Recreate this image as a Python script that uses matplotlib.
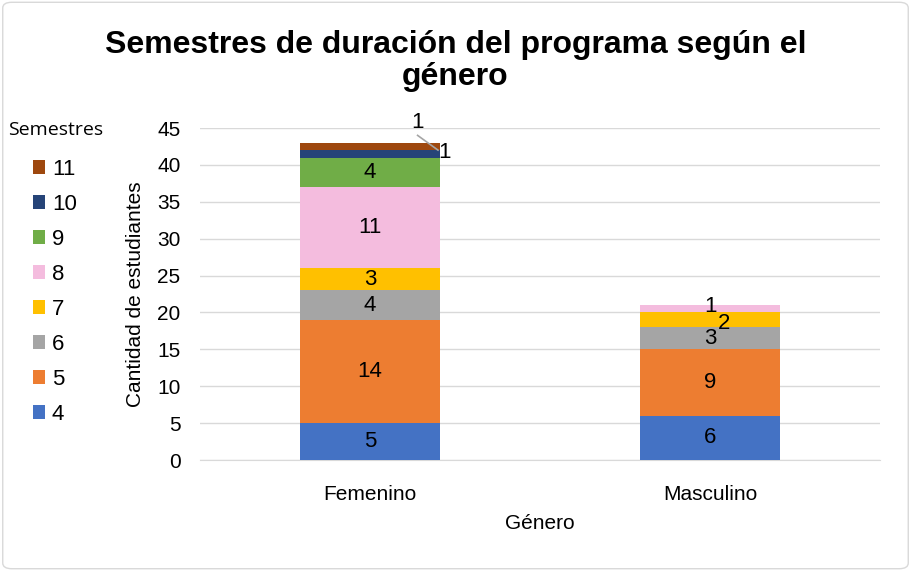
import numpy as np
import matplotlib.pyplot as plt
from matplotlib.patches import FancyBboxPatch

# data
generos = ['Femenino', 'Masculino']
semestres = ['4', '5', '6', '7', '8', '9', '10', '11']
femenino = [5, 14, 4, 3, 11, 4, 1, 1]
masculino = [6, 9, 3, 2, 1, 0, 0, 0]
colores = ['#4472C4', '#ED7D31', '#A5A5A5', '#FFC000', '#F4BCDE',
           '#70AD47', '#264478', '#9E480E']

plt.rcParams['font.family'] = ['Liberation Sans', 'DejaVu Sans']

fig = plt.figure(figsize=(9.11, 5.71), dpi=100)
ax = fig.add_axes([200 / 911, 1 - 460 / 571, 680 / 911, 332 / 571])

x = np.arange(len(generos))
width = 0.41
valores = np.array([femenino, masculino])
bottom = np.zeros(len(generos))
bars = []
for i, s in enumerate(semestres):
    b = ax.bar(x, valores[:, i], width, bottom=bottom, color=colores[i],
               label=s, zorder=3)
    bars.append(b)
    bottom += valores[:, i]

# data labels
fs = 16
for i, s in enumerate(semestres):
    for j in range(len(generos)):
        v = valores[j, i]
        if v == 0:
            continue
        base = valores[j, :i].sum()
        cy = base + v / 2
        cx = x[j]
        if j == 0 and s == '10':
            ax.text(cx + 0.22, cy + 0.2, '1', ha='center', va='center', fontsize=fs)
            continue
        if j == 0 and s == '11':
            ax.plot([cx + 0.14, cx + 0.2], [44.0, 42.0], color='#A5A5A5', lw=1.2, zorder=4)
            ax.text(cx + 0.14, 45.8, '1', ha='center', va='center', fontsize=fs)
            continue
        if j == 1 and s == '8':
            ax.text(cx, cy + 0.3, '1', ha='center', va='center', fontsize=fs)
            continue
        if j == 1 and s == '7':
            ax.text(cx + 0.04, cy - 0.5, '2', ha='center', va='center', fontsize=fs)
            continue
        ax.text(cx, cy, str(v), ha='center', va='center', fontsize=fs)

ax.set_ylim(0, 45)
ax.set_xlim(-0.5, 1.5)
ax.set_yticks(np.arange(0, 46, 5))
ax.set_xticks(x)
ax.set_xticklabels(generos)
ax.tick_params(axis='both', length=0, labelsize=15, colors='#000000')
ax.tick_params(axis='x', pad=18, labelsize=15)
ax.tick_params(axis='y', pad=14)
ax.grid(axis='y', color='#D9D9D9', lw=1, zorder=0)
for sp in ['top', 'right', 'left']:
    ax.spines[sp].set_visible(False)
ax.spines['bottom'].set_color('#D9D9D9')

ax.set_ylabel('Cantidad de estudiantes', fontsize=15, labelpad=9)
ax.set_xlabel('Género', fontsize=15, labelpad=7)

fig.text(0.5, 1 - 45 / 571, 'Semestres de duración del programa según el',
         ha='center', va='center', fontsize=23, fontweight='bold')
fig.text(0.5, 1 - 77 / 571, 'género', ha='center', va='center',
         fontsize=23, fontweight='bold')

# legend
handles = [bars[i] for i in range(len(semestres))][::-1]
labels = semestres[::-1]
fig.text(8 / 911, 1 - 130 / 571, 'Semestres', ha='left', va='center',
         fontsize=14, family=['Open Sans', 'DejaVu Sans'])
leg = fig.legend(handles, labels, loc='upper left',
                 bbox_to_anchor=(33 / 911, 1 - 159 / 571), frameon=False,
                 fontsize=16, handlelength=0.55, handleheight=0.55,
                 handletextpad=0.3, labelspacing=0.63, borderpad=0,
                 borderaxespad=0)

fig.patches.append(FancyBboxPatch((0.003, 0.004), 0.994, 0.992,
                                  boxstyle='round,pad=0,rounding_size=0.01',
                                  transform=fig.transFigure, fill=False,
                                  edgecolor='#D9D9D9', lw=1))

fig.savefig('out.png', dpi=100)
